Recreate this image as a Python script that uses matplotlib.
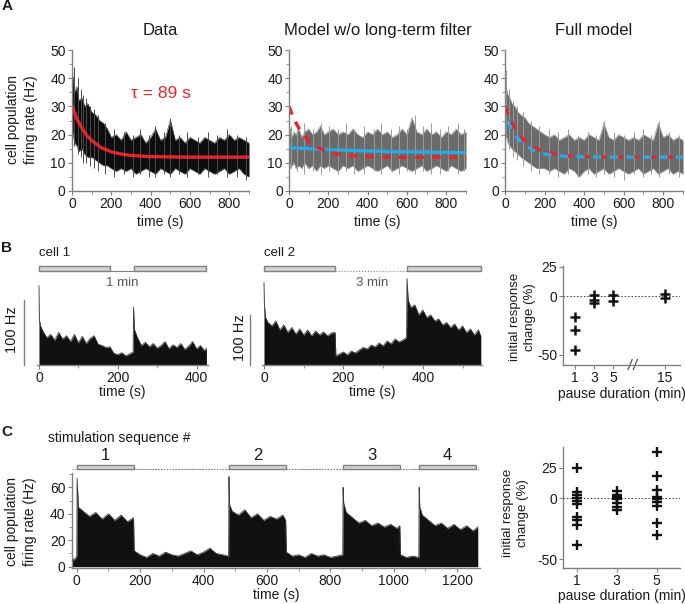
import matplotlib
matplotlib.use("Agg")
import matplotlib.pyplot as plt
import matplotlib.transforms as mtransforms
from matplotlib.patches import Rectangle
from matplotlib.ticker import MultipleLocator, NullLocator
import numpy as np

plt.rcParams['font.family'] = ['Liberation Sans', 'DejaVu Sans']
plt.rcParams['font.size'] = 10
plt.rcParams['axes.unicode_minus'] = False

# ---------------- data ----------------
# panel A: population rate, upper / lower envelope of the noisy traces (Hz)
a_t = [0, 3, 8, 15, 25, 35, 50, 65, 80, 100, 120, 140, 160, 180,
       200, 225, 250, 275, 300, 325, 350, 375, 400, 425, 450, 475, 500,
       525, 550, 575, 600, 625, 650, 675, 700, 725, 750, 775, 800, 825,
       850, 875, 900]
data_hi = [48, 41, 39, 35, 37, 32, 33, 30, 31, 28, 27, 25, 24, 22,
           19, 20, 18, 21, 18, 19, 20, 17, 19, 22, 18, 19, 25,
           18, 19, 17, 19, 18, 17, 19, 18, 17, 19, 18, 20, 18,
           19, 18, 17]
data_lo = [24, 21, 19, 17, 16, 14, 15, 13, 12, 12, 11, 10, 9, 9,
           8, 7, 8, 7, 8, 6, 7, 8, 7, 6, 8, 7, 6,
           8, 7, 6, 8, 7, 6, 8, 7, 6, 7, 8, 6, 7,
           8, 6, 5]
model_hi = [21, 20, 22, 19, 21, 20, 22, 19, 21, 22, 20, 21, 23, 20,
            21, 22, 20, 21, 20, 22, 20, 19, 21, 20, 22, 20, 21,
            19, 20, 22, 20, 26, 21, 20, 22, 20, 21, 19, 21, 20,
            22, 20, 21]
model_lo = [9, 10, 8, 9, 10, 8, 9, 8, 10, 8, 9, 7, 9, 8,
            9, 8, 7, 9, 8, 9, 7, 8, 9, 8, 7, 8, 9,
            7, 8, 9, 8, 7, 8, 9, 7, 8, 9, 8, 7, 9,
            8, 7, 8]
full_hi = [41, 38, 36, 34, 33, 31, 30, 28, 27, 26, 24, 23, 22, 21,
           20, 19, 20, 18, 19, 20, 18, 19, 18, 20, 19, 18, 24,
           19, 18, 20, 19, 18, 19, 18, 20, 19, 18, 24, 19, 20,
           18, 19, 18]
full_lo = [22, 20, 19, 17, 16, 15, 14, 13, 12, 11, 10, 9, 8, 8,
           8, 7, 8, 7, 6, 8, 7, 5, 7, 8, 6, 7, 8,
           6, 7, 8, 7, 6, 7, 8, 6, 7, 8, 6, 7, 8,
           6, 7, 6]

# isolated excursions of the traces beyond the dense band (time, high, low)
data_spk_t = [12, 28, 45, 58, 72, 90, 110, 130, 170, 215, 262, 310, 348, 392,
              420, 468, 500, 545, 585, 640, 690, 735, 790, 838, 885]
data_spk_hi = [44, 40, 36, 34, 33, 30, 29, 27, 24, 22, 21, 20, 22, 20,
               23, 21, 26, 20, 21, 19, 21, 20, 22, 20, 19]
data_spk_lo = [16, 13, 12, 10, 10, 9, 8, 7, 6, 5, 6, 5, 6, 5,
               5, 6, 5, 6, 5, 6, 5, 6, 5, 5, 4]
model_spk_t = [10, 40, 75, 120, 165, 205, 250, 290, 330, 380, 430, 470, 520,
               560, 600, 640, 680, 720, 770, 810, 860, 890]
model_spk_hi = [23, 22, 24, 22, 24, 23, 22, 24, 22, 23, 22, 24, 22,
                23, 22, 27, 23, 24, 22, 23, 24, 22]
model_spk_lo = [8, 7, 6, 7, 6, 7, 6, 7, 6, 6, 7, 6, 7,
                6, 7, 6, 7, 6, 6, 7, 6, 7]
full_spk_t = [5, 20, 40, 60, 90, 130, 170, 220, 270, 320, 370, 420, 460, 500,
              550, 600, 650, 700, 740, 780, 830, 880]
full_spk_hi = [43, 36, 32, 30, 28, 25, 23, 22, 21, 22, 20, 21, 20, 25,
               21, 20, 21, 22, 20, 25, 21, 20]
full_spk_lo = [19, 15, 12, 11, 9, 7, 6, 6, 5, 6, 5, 6, 5, 6,
               5, 4, 6, 5, 6, 5, 6, 5]

# exponential fit to the data (tau = 89 s), sampled from the red curve
fit_t = [0, 25, 50, 75, 100, 150, 200, 250, 300, 400, 500, 600, 900]
fit_y = [30, 25.6, 22.3, 19.7, 17.9, 15.3, 13.9, 13.1, 12.6, 12.2, 12.1, 12.0, 12.0]
# model without long-term filter (blue, solid)
nm_t = [0, 100, 200, 300, 400, 500, 600, 700, 800, 900]
nm_y = [15.4, 15.0, 14.7, 14.4, 14.2, 14.0, 13.9, 13.8, 13.7, 13.6]
# full model (blue, dashed)
fm_t = [0, 25, 50, 75, 100, 150, 200, 250, 300, 400, 500, 900]
fm_y = [27.5, 23, 20, 17.8, 16.2, 14.2, 13.1, 12.6, 12.3, 12.1, 12.0, 12.0]
titles = ['Data', 'Model w/o long-term filter', 'Full model']

# panel B: single cells
b1_t = [0, 1, 4, 10,
        20, 30, 40, 50, 60, 70, 80, 90, 100, 110, 120, 130, 140, 150, 160,
        170, 180, 190, 200, 210, 220, 230,
        239, 240, 242,
        250, 260, 270, 280, 290, 300, 310, 320, 330, 340, 350, 360, 370,
        380, 390, 400, 410, 420,
        425]
b1_rate = [122, 70, 60, 52,
           42, 47, 38, 50, 40, 45, 36, 47, 34, 44, 33, 41, 45, 32, 30,
           27, 28, 18, 16, 19, 14, 17,
           20, 89, 55,
           42, 30, 35, 28, 33, 26, 30, 36, 25, 31, 27, 33, 24,
           29, 36, 25, 30, 22,
           26]
b2_t = [0, 1, 4,
        10, 20, 30, 40, 50, 60, 70, 80, 90, 100, 110, 120, 130, 140, 150, 160, 170,
        179, 181,
        190, 200, 210, 220, 230, 240, 250, 260, 270, 280, 290, 300, 310, 320, 330, 340, 350,
        359, 360, 363,
        370, 380, 390, 400, 410, 420, 430, 440, 450, 460, 470, 480, 490, 500, 510, 520, 530, 540,
        546]
b2_rate = [165, 120, 95,
           85, 78, 88, 70, 80, 65, 75, 62, 72, 60, 70, 58, 68, 60, 66, 58, 64,
           65, 18,
           22, 26, 20, 28, 24, 30, 35, 32, 40, 36, 44, 38, 48, 42, 52, 46, 50,
           55, 173, 130,
           115, 120, 100, 110, 95, 100, 88, 92, 80, 85, 75, 82, 70, 78, 65, 72, 60, 70,
           58]
b1_stim_on, b1_stim_off = [0, 240], [180, 425]
b2_stim_on, b2_stim_off = [0, 360], [180, 546]
scale_hz = 100

b_pause = [1, 3, 5, 15]
b_change = [[-18, -29, -46], [1, -3, -6], [1, -4], [2, -2]]

# panel C: repeated stimulation sequences
c_t = [-16, -8, 0, 1, 5,
       20, 40, 60, 80, 100, 120, 140, 160, 179,
       181, 200, 220, 240, 260, 280, 300, 320, 340, 360, 380, 400, 420, 440, 460, 479,
       480, 482, 490, 510, 530, 550, 570, 590, 610, 630, 650, 659,
       661, 680, 700, 720, 740, 760, 780, 800, 820, 839,
       840, 842, 850, 870, 890, 910, 930, 950, 970, 990, 1010, 1019,
       1021, 1040, 1060, 1079,
       1080, 1082, 1090, 1110, 1130, 1150, 1170, 1190, 1210, 1230, 1250, 1265]
c_rate = [7, 5, 8, 67, 45,
          42, 38, 41, 36, 40, 35, 39, 34, 37,
          12, 9, 7, 10, 8, 11, 9, 8, 10, 12, 9, 11, 14, 10, 9, 8,
          68, 47, 42, 39, 43, 37, 40, 35, 38, 36, 39, 35,
          11, 8, 9, 7, 10, 8, 9, 7, 8, 9,
          60, 48, 41, 37, 33, 35, 31, 33, 30, 32, 29, 31,
          9, 7, 8, 7,
          60, 45, 39, 35, 31, 33, 29, 32, 28, 31, 27, 30]
c_stim_on = [0, 480, 840, 1080]
c_stim_off = [180, 660, 1020, 1260]
c_stim_labels = ['1', '2', '3', '4']

c_pause = [1, 3, 5]
c_change = [[25, 5, 3, 0, -2, -5, -15, -18, -22, -38],
            [6, 3, 1, -1, -4, -7, -10],
            [38, 18, 7, 1, -1, -3, -6, -20, -30]]

# ---------------- style ----------------
RED = '#e2262c'
BLUE = '#29aae1'
GRAY = '#808080'
BOX = '#d4d4d4'
INK = '#1a1a1a'

W, H = 685, 604
fig = plt.figure(figsize=(W / 100, H / 100), dpi=100)


def px_axes(l, t, r, b):
    return fig.add_axes([l / W, 1 - b / H, (r - l) / W, (b - t) / H])


def fy(px):
    return 1 - px / H


def style(ax, left=True, bottom=True):
    ax.spines['top'].set_visible(False)
    ax.spines['right'].set_visible(False)
    ax.spines['left'].set_visible(left)
    ax.spines['bottom'].set_visible(bottom)
    for s in ['left', 'bottom']:
        ax.spines[s].set_color(GRAY)
        ax.spines[s].set_linewidth(1.0)
    ax.tick_params(which='both', color=GRAY, direction='out', labelsize=10,
                   pad=1.5, labelcolor=INK)
    ax.tick_params(which='major', length=3)
    ax.tick_params(which='minor', length=2)
    ax.patch.set_alpha(0)


def stim_boxes(ax, on, off, top_px, bot_px, link):
    tr = mtransforms.blended_transform_factory(ax.transData, fig.transFigure)
    for a, b in zip(off[:-1], on[1:]):
        ax.plot([a, b], [fy(bot_px)] * 2, transform=tr, color=GRAY, lw=0.8,
                ls=link, clip_on=False)
    for a, b in zip(on, off):
        ax.add_patch(Rectangle((a, fy(bot_px)), b - a, (bot_px - top_px) / H,
                               transform=tr, facecolor=BOX, edgecolor=GRAY,
                               lw=1, clip_on=False))
    return tr


def ylab(x, y, s, size=10):
    fig.text(x / W, fy(y), s, rotation=90, ha='center', va='center',
             linespacing=1.35, fontsize=size, color=INK)


# ---------------- A ----------------
a_axes = []
for (l, r), title in zip([(72, 249), (289, 466), (505, 683)], titles):
    ax = px_axes(l, 50, r, 191)
    style(ax)
    ax.set_xlim(0, 900)
    ax.set_ylim(0, 50)
    ax.set_xticks([0, 200, 400, 600, 800])
    ax.xaxis.set_minor_locator(MultipleLocator(100))
    ax.set_yticks([0, 10, 20, 30, 40, 50])
    ax.yaxis.set_minor_locator(MultipleLocator(5))
    ax.set_xlabel('time (s)', labelpad=3, color=INK)
    ax.set_title(title, fontsize=12, pad=11, color=INK)
    a_axes.append(ax)

traces = [
    (data_lo, data_hi, data_spk_t, data_spk_lo, data_spk_hi, '#0d0d0d', '#4a4a4a'),
    (model_lo, model_hi, model_spk_t, model_spk_lo, model_spk_hi, '#6b6b6b', '#9a9a9a'),
    (full_lo, full_hi, full_spk_t, full_spk_lo, full_spk_hi, '#6b6b6b', '#9a9a9a'),
]
for ax, (lo, hi, st, slo, shi, fc, ec) in zip(a_axes, traces):
    ax.vlines(st, slo, shi, color=ec, lw=0.7)
    ax.fill_between(a_t, lo, hi, color=fc, lw=0)
    ax.plot(a_t, hi, color=ec, lw=0.5)
    ax.plot(a_t, lo, color=ec, lw=0.5)

ax = a_axes[0]
ax.plot(fit_t, fit_y, color=RED, lw=2.4)
ax.text(450, 34.5, 'τ = 89 s', color=RED, fontsize=12.5, ha='center', va='center')

ax = a_axes[1]
ax.plot(nm_t, nm_y, color=BLUE, lw=2.4)
ax.plot(fit_t, fit_y, color=RED, lw=2.4, ls=(0, (2.6, 2.4)))

ax = a_axes[2]
ax.plot(fit_t, fit_y, color=RED, lw=2.4, ls=(0, (2.5, 2.5)))
ax.plot(fm_t, fm_y, color=BLUE, lw=2.4, ls=(2.5, (2.5, 2.5)))

ylab(22, 120, 'cell population\nfiring rate (Hz)')

# ---------------- B ----------------
cells = [
    dict(box=(37, 280.5, 208.4, 365), xlim=(-5, 430), ylim=(0, 130), t=b1_t,
         rate=b1_rate, on=b1_stim_on, off=b1_stim_off, link='-', name='cell 1',
         pause='1 min', pause_x=212, bar_x=-38, bar_lab_x=-68, ticks_minor=[100, 300]),
    dict(box=(262, 275, 482.4, 365), xlim=(-5, 550), ylim=(0, 180), t=b2_t,
         rate=b2_rate, on=b2_stim_on, off=b2_stim_off, link=':', name='cell 2',
         pause='3 min', pause_x=272, bar_x=-35, bar_lab_x=-60, ticks_minor=[100, 300, 500]),
]
for c in cells:
    ax = px_axes(*c['box'])
    style(ax, left=False)
    ax.set_xlim(*c['xlim'])
    ax.set_ylim(*c['ylim'])
    ax.set_yticks([])
    ax.set_xticks([0, 200, 400])
    ax.set_xticks(c['ticks_minor'], minor=True)
    ax.fill_between(c['t'], 0, c['rate'], color='#111111', lw=0)
    ax.plot(c['t'], c['rate'], color='#3c3c3c', lw=0.6)
    ax.set_xlabel('time (s)', labelpad=0, color=INK)
    ax.plot([c['bar_x']] * 2, [0, scale_hz], color=GRAY, lw=1, clip_on=False)
    ax.text(c['bar_lab_x'], scale_hz * 0.55, '%d Hz' % scale_hz, rotation=90,
            ha='center', va='center', fontsize=10.5, color=INK)
    tr = stim_boxes(ax, c['on'], c['off'], 265.7, 271, c['link'])
    ax.text(1, fy(253), c['name'], transform=tr, ha='left', va='center',
            fontsize=9.5, color=INK)
    ax.text(c['pause_x'], fy(282.7), c['pause'], transform=tr, ha='center',
            va='center', fontsize=9.5, color='#555555')


def brk_fwd(x):
    x = np.asarray(x, dtype=float)
    return np.where(x <= 5, x, 5 + (x - 5) * 0.55)


def brk_inv(u):
    u = np.asarray(u, dtype=float)
    return np.where(u <= 5, u, 5 + (u - 5) / 0.55)


def change_axes(box, ylim):
    ax = px_axes(*box)
    style(ax)
    ax.set_ylim(*ylim)
    ax.set_yticks([25, 0, -50])
    ax.yaxis.set_minor_locator(NullLocator())
    ax.axhline(0, color='#333333', lw=0.7, ls=(0, (1.5, 2)))
    ax.set_xlabel('pause duration (min)', labelpad=1, color=INK)
    return ax


ax = change_axes((563.3, 266, 680, 365), (-58.5, 25.5))
ax.set_xscale('function', functions=(brk_fwd, brk_inv))
ax.set_xlim(-0.24, 17.9)
ax.set_xticks(b_pause)
ax.set_xticklabels([str(p) for p in b_pause])
ax.xaxis.set_minor_locator(NullLocator())
for p, vals in zip(b_pause, b_change):
    ax.plot([p] * len(vals), vals, '+', color='#111111', ms=7, mew=1.8)
for x0 in [0.555, 0.6]:
    ax.plot([x0, x0 + 0.035], [-0.045, 0.055], transform=ax.transAxes,
            color='#555555', lw=0.9, clip_on=False)
ylab(522.5, 316.7, 'initial response\nchange (%)', size=9.5)

# ---------------- C ----------------
ax = px_axes(71.7, 473.3, 480, 568)
style(ax)
ax.set_xlim(-16, 1272)
ax.set_ylim(-1, 70.6)
ax.set_xticks([0, 200, 400, 600, 800, 1000, 1200])
ax.xaxis.set_minor_locator(MultipleLocator(100))
ax.set_yticks([0, 20, 40, 60])
ax.yaxis.set_minor_locator(MultipleLocator(10))
ax.fill_between(c_t, 0, c_rate, color='#111111', lw=0)
ax.plot(c_t, c_rate, color='#3c3c3c', lw=0.6)
ax.set_xlabel('time (s)', labelpad=0, color=INK)
tr = mtransforms.blended_transform_factory(ax.transData, fig.transFigure)
ax.plot([-16, 1272], [fy(469.3)] * 2, transform=tr, color=GRAY, lw=0.8,
        ls=(0, (1, 1.5)), clip_on=False)
stim_boxes(ax, c_stim_on, c_stim_off, 465.3, 469.3, ':')
for a, b, lab in zip(c_stim_on, c_stim_off, c_stim_labels):
    ax.text((a + b) / 2, fy(455), lab, transform=tr, ha='center', va='center',
            fontsize=12, color=INK)
fig.text(48.3 / W, fy(437.7), 'stimulation sequence #', ha='left', va='center',
         fontsize=10, color=INK)
ylab(21, 521.7, 'cell population\nfiring rate (Hz)')

ax = change_axes((563.3, 446.7, 680, 567.7), (-57, 42.3))
ax.set_xlim(0.33, 6.17)
ax.set_xticks(c_pause)
for p, vals in zip(c_pause, c_change):
    ax.plot([p] * len(vals), vals, '+', color='#111111', ms=6.5, mew=1.7)
ylab(515.5, 513, 'initial response\nchange (%)', size=9.5)

# panel letters
for lab, y in [('A', 6), ('B', 248), ('C', 432)]:
    fig.text(7 / W, fy(y), lab, fontweight='bold', fontsize=11, ha='center',
             va='center', color=INK)

fig.savefig('out.png', dpi=100)
